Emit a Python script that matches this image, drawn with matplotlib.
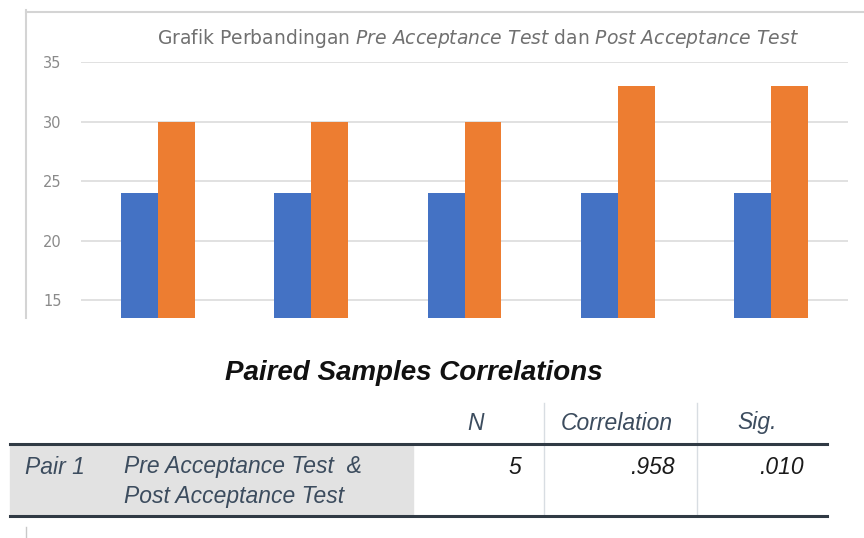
import matplotlib
matplotlib.use("Agg")
import matplotlib.pyplot as plt
import numpy as np

# chart data
groups = np.arange(5)
pre_test = [24, 24, 24, 24, 24]
post_test = [30, 30, 30, 33, 33]
y_ticks = [15, 20, 25, 30, 35]

# table data
table_title = "Paired Samples Correlations"
table_cols = ["N", "Correlation", "Sig."]
pair_label = "Pair 1"
pair_vars = ["Pre Acceptance Test  &", "Post Acceptance Test"]
pair_values = ["5", ".958", ".010"]

plt.rcParams["mathtext.fontset"] = "custom"
plt.rcParams["mathtext.rm"] = "DejaVu Sans"
plt.rcParams["mathtext.it"] = "DejaVu Sans:italic"

W, H = 864, 538
fig = plt.figure(figsize=(W / 100, H / 100), dpi=100)


def px(x0, y0, x1, y1):
    # pixel box (top-left origin) -> figure fraction rect
    return [x0 / W, 1 - y1 / H, (x1 - x0) / W, (y1 - y0) / H]


# overlay for frame lines and the table
ov = fig.add_axes([0, 0, 1, 1])
ov.set_xlim(0, W)
ov.set_ylim(H, 0)
ov.axis("off")

# bar chart
ax = fig.add_axes(px(81, 62, 848, 318))
w = 0.24
ax.bar(groups - w / 2, pre_test, w, color="#4472C4", zorder=3)
ax.bar(groups + w / 2, post_test, w, color="#ED7D31", zorder=3)
ax.set_xlim(-0.5, 4.5)
ax.set_ylim(13.5, 35)
ax.set_yticks(y_ticks)
ax.set_xticks([])
ax.grid(axis="y", color="#dcdcdc", linewidth=1.2, zorder=0)
for s in ax.spines.values():
    s.set_visible(False)
ax.tick_params(axis="y", length=0, pad=14, labelsize=10.5, labelcolor="#8a8a8a")
for lbl in ax.get_yticklabels():
    lbl.set_family("DejaVu Sans")
ax.set_title(r"Grafik Perbandingan $\it{Pre\ Acceptance\ Test}$ dan $\it{Post\ Acceptance\ Test}$",
             fontsize=13.5, color="#707070", pad=13, x=0.518)

# chart frame
ov.plot([26, 26], [10, 318], color="#d4d4d4", lw=1.5)
ov.plot([26, W], [12, 12], color="#d4d4d4", lw=1.5)
ov.plot([26, 26], [527, 537], color="#c8c8c8", lw=1)

# table
ov.text(414, 373, table_title, fontsize=20, fontweight="bold", style="italic",
        family="Liberation Sans", ha="center", va="center", color="#111111")
ov.add_patch(plt.Rectangle((10, 444), 403, 72, color="#e2e2e2", zorder=0))
ov.plot([544, 544], [403, 516], color="#d8dde2", lw=1)
ov.plot([697, 697], [403, 516], color="#d8dde2", lw=1)
ov.plot([10, 827], [444, 444], color="#303a44", lw=2.2)
ov.plot([10, 827], [516, 516], color="#303a44", lw=2.2)

hdr_color = "#3c4c5e"
fs = 16.5
for x, t in zip([476, 617, 757], table_cols):
    ov.text(x, 423, t, fontsize=fs, style="italic", family="Liberation Sans",
            ha="center", va="center", color=hdr_color)
ov.text(25, 467, pair_label, fontsize=fs, style="italic", family="Liberation Sans",
        ha="left", va="center", color=hdr_color)
for y, t in zip([467, 496], pair_vars):
    ov.text(124, y, t, fontsize=fs, style="italic", family="Liberation Sans",
            ha="left", va="center", color=hdr_color)
for x, t in zip([521, 675, 804], pair_values):
    ov.text(x, 467, t, fontsize=fs, style="italic", family="Liberation Sans",
            ha="right", va="center", color="#1a1a1a")

fig.savefig("out.png", dpi=100)
